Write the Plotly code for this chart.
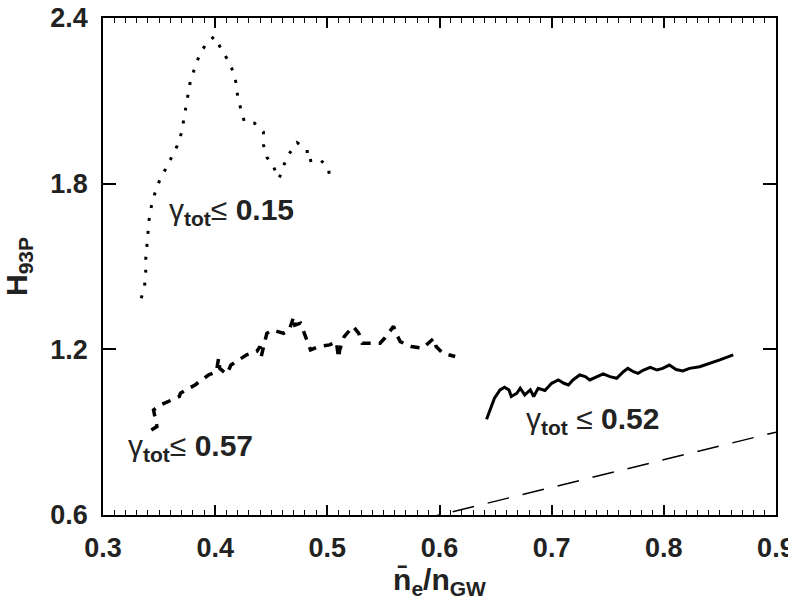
import plotly.graph_objects as go

# gamma_tot <= 0.15 (dotted)
dot_x = [0.334, 0.337, 0.338, 0.338, 0.339, 0.340, 0.341, 0.343, 0.346, 0.350, 0.356, 0.361,
         0.366, 0.370, 0.372, 0.374, 0.376, 0.378, 0.382, 0.386, 0.392, 0.399, 0.405, 0.411,
         0.416, 0.419, 0.420, 0.423, 0.426, 0.435, 0.443, 0.443, 0.446, 0.452, 0.457, 0.461,
         0.466, 0.473, 0.482, 0.482, 0.493, 0.501, 0.502]
dot_y = [1.385, 1.430, 1.478, 1.526, 1.572, 1.621, 1.669, 1.717, 1.763, 1.808, 1.853, 1.895,
         1.937, 1.985, 2.034, 2.079, 2.128, 2.176, 2.222, 2.267, 2.307, 2.333, 2.291, 2.249,
         2.206, 2.158, 2.112, 2.065, 2.024, 2.019, 1.987, 1.941, 1.896, 1.860, 1.819, 1.866,
         1.909, 1.949, 1.922, 1.882, 1.890, 1.855, 1.824]

# gamma_tot <= 0.57 (dashed)
dash_x = [0.343, 0.348, 0.345, 0.351, 0.368, 0.369, 0.382, 0.386, 0.394, 0.401, 0.403, 0.404,
          0.410, 0.412, 0.414, 0.428, 0.437, 0.440, 0.441, 0.446, 0.451, 0.461, 0.466, 0.470,
          0.471, 0.476, 0.480, 0.485, 0.492, 0.502, 0.508, 0.510, 0.511, 0.515, 0.523, 0.528,
          0.531, 0.547, 0.551, 0.559, 0.562, 0.565, 0.575, 0.585, 0.595, 0.597, 0.603, 0.614]
dash_y = [0.908, 0.920, 0.980, 0.998, 1.029, 1.041, 1.071, 1.083, 1.107, 1.119, 1.168, 1.131,
          1.110, 1.125, 1.143, 1.180, 1.192, 1.210, 1.174, 1.258, 1.270, 1.258, 1.270, 1.318,
          1.288, 1.295, 1.252, 1.198, 1.210, 1.216, 1.228, 1.168, 1.198, 1.246, 1.283, 1.258,
          1.222, 1.222, 1.240, 1.283, 1.252, 1.228, 1.210, 1.204, 1.240, 1.210, 1.186, 1.174]

# gamma_tot <= 0.52 (solid)
sol_x = [0.642, 0.645, 0.649, 0.654, 0.658, 0.662, 0.664, 0.669, 0.672, 0.676, 0.681, 0.684,
         0.688, 0.694, 0.700, 0.706, 0.711, 0.715, 0.719, 0.725, 0.730, 0.734, 0.740, 0.746,
         0.752, 0.758, 0.764, 0.768, 0.773, 0.777, 0.782, 0.788, 0.794, 0.799, 0.805, 0.811,
         0.817, 0.823, 0.832, 0.841, 0.850, 0.862]
sol_y = [0.947, 0.980, 1.023, 1.053, 1.063, 1.053, 1.029, 1.041, 1.059, 1.035, 1.053, 1.029,
         1.059, 1.051, 1.077, 1.089, 1.077, 1.071, 1.089, 1.107, 1.101, 1.089, 1.101, 1.111,
         1.101, 1.095, 1.119, 1.131, 1.119, 1.113, 1.125, 1.135, 1.125, 1.131, 1.143, 1.127,
         1.122, 1.131, 1.137, 1.149, 1.162, 1.180]

# reference line H = n/nGW
ref_x = [0.3, 0.9]
ref_y = [0.3, 0.9]

x_ticks = [0.3, 0.4, 0.5, 0.6, 0.7, 0.8, 0.9]
y_ticks = [0.6, 1.2, 1.8, 2.4]

labels = ["γ<sub><b>tot</b></sub>≤ <b>0.15</b>",
          "γ<sub><b>tot</b></sub>≤ <b>0.57</b>",
          "γ<sub><b>tot</b></sub> ≤ <b>0.52</b>"]
label_x = [0.357, 0.320, 0.675]
label_y = [1.701, 0.843, 0.944]

FONT = "Liberation Sans"

fig = go.Figure()
fig.add_trace(go.Scatter(x=dot_x, y=dot_y, mode="lines",
                         line=dict(color="black", width=3, dash="3px,10px")))
fig.add_trace(go.Scatter(x=dash_x, y=dash_y, mode="lines",
                         line=dict(color="black", width=3.5, dash="9px,8px")))
fig.add_trace(go.Scatter(x=sol_x, y=sol_y, mode="lines",
                         line=dict(color="black", width=3)))
fig.add_trace(go.Scatter(x=ref_x, y=ref_y, mode="lines",
                         line=dict(color="black", width=1.5, dash="22px,14px")))

for t, ax_, ay_ in zip(labels, label_x, label_y):
    fig.add_annotation(x=ax_, y=ay_, text=t, showarrow=False, xanchor="left", yanchor="middle",
                       font=dict(family=FONT, size=30, color="#222"))

axis_common = dict(showgrid=False, zeroline=False, showline=True, linecolor="black", linewidth=1.5,
                   mirror="ticks", ticks="inside", tickcolor="black", tickwidth=1.5,
                   automargin=False,
                   tickfont=dict(family=FONT, size=27, color="#222"))

fig.update_xaxes(range=[0.2999, 0.9001], tickvals=x_ticks, ticktext=[f"<b>{v:.1f}</b>" for v in x_ticks],
                 ticklen=10, ticklabelstandoff=8, ticklabeloverflow="allow",
                 minor=dict(dtick=0.01, ticks="inside", ticklen=5, tickcolor="black", tickwidth=1.2),
                 title=dict(text="<b>n\u0304<sub>e</sub>/n<sub>GW</sub></b>",
                            font=dict(family=FONT, size=30, color="#222"), standoff=6),
                 **axis_common)
fig.update_yaxes(range=[0.5999, 2.4001], tickvals=y_ticks, ticktext=[f"<b>{v:.1f}</b>" for v in y_ticks],
                 ticklen=13, ticklabelstandoff=8, ticklabeloverflow="allow",
                 title=dict(text="<b>H<sub>93P</sub></b>",
                            font=dict(family=FONT, size=30, color="#222"), standoff=14),
                 **axis_common)

fig.update_layout(width=788, height=611, showlegend=False,
                  plot_bgcolor="white", paper_bgcolor="white",
                  margin=dict(l=103, r=12, t=18, b=96, autoexpand=False))
fig.write_html("out.html")
